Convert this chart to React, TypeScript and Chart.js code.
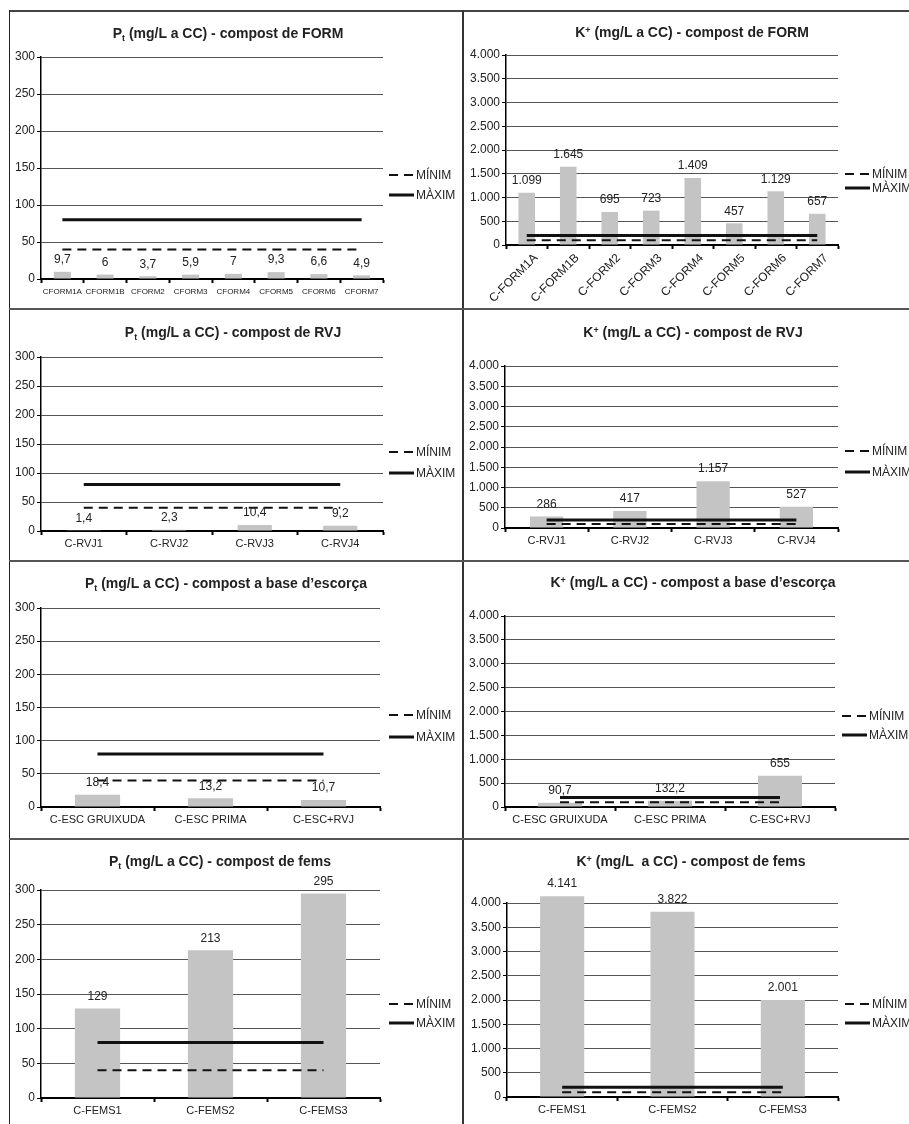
import React, { useEffect, useRef } from 'react';
import { Chart, registerables } from 'chart.js';

Chart.register(...registerables);

const FONT = "'Liberation Sans', Arial, Helvetica, sans-serif";
Chart.defaults.font.family = FONT;

// ---------------- DATA ----------------
const formPCategories = ['CFORM1A', 'CFORM1B', 'CFORM2', 'CFORM3', 'CFORM4', 'CFORM5', 'CFORM6', 'CFORM7'];
const formPValues = [9.7, 6, 3.7, 5.9, 7, 9.3, 6.6, 4.9];
const formPMin = [40, 40, 40, 40, 40, 40, 40, 40];
const formPMax = [80, 80, 80, 80, 80, 80, 80, 80];

const formKCategories = ['C-FORM1A', 'C-FORM1B', 'C-FORM2', 'C-FORM3', 'C-FORM4', 'C-FORM5', 'C-FORM6', 'C-FORM7'];
const formKValues = [1099, 1645, 695, 723, 1409, 457, 1129, 657];
const formKMin = [100, 100, 100, 100, 100, 100, 100, 100];
const formKMax = [200, 200, 200, 200, 200, 200, 200, 200];

const rvjCategories = ['C-RVJ1', 'C-RVJ2', 'C-RVJ3', 'C-RVJ4'];
const rvjPValues = [1.4, 2.3, 10.4, 9.2];
const rvjPMin = [40, 40, 40, 40];
const rvjPMax = [80, 80, 80, 80];
const rvjKValues = [286, 417, 1157, 527];
const rvjKMin = [100, 100, 100, 100];
const rvjKMax = [200, 200, 200, 200];

const escCategories = ['C-ESC GRUIXUDA', 'C-ESC PRIMA', 'C-ESC+RVJ'];
const escPValues = [18.4, 13.2, 10.7];
const escPMin = [40, 40, 40];
const escPMax = [80, 80, 80];
const escKValues = [90.7, 132.2, 655];
const escKMin = [100, 100, 100];
const escKMax = [200, 200, 200];

const femsCategories = ['C-FEMS1', 'C-FEMS2', 'C-FEMS3'];
const femsPValues = [129, 213, 295];
const femsPMin = [40, 40, 40];
const femsPMax = [80, 80, 80];
const femsKValues = [4141, 3822, 2001];
const femsKMin = [100, 100, 100];
const femsKMax = [200, 200, 200];

const pAxisMax = 300;
const pAxisStep = 50;
const kAxisMax = 4000;
const kAxisStep = 500;

const legendLabels = ['MÍNIM', 'MÀXIM'];

// ---------------- helpers ----------------
function fmt(v: number): string {
  const s = String(v);
  const [i, d] = s.split('.');
  const grouped = i.replace(/\B(?=(\d{3})+(?!\d))/g, '.');
  return d ? grouped + ',' + d : grouped;
}

const valueLabelPlugin = {
  id: 'valueLabels',
  afterDatasetsDraw(chart: any) {
    const ctx = chart.ctx;
    chart.data.datasets.forEach((ds: any, di: number) => {
      if (ds.type !== 'bar') return;
      const meta = chart.getDatasetMeta(di);
      ctx.save();
      ctx.font = `12px ${FONT}`;
      ctx.fillStyle = '#222';
      ctx.textAlign = 'center';
      ctx.textBaseline = 'middle';
      meta.data.forEach((el: any, i: number) => {
        ctx.fillText(fmt(ds.data[i]), el.x, el.y - 12);
      });
      ctx.restore();
    });
  },
};

const refLegendPlugin = {
  id: 'refLegend',
  afterDraw(chart: any, _args: any, opts: any) {
    if (!opts || !opts.ys) return;
    const ctx = chart.ctx;
    const lines = chart.data.datasets.filter((d: any) => d.type === 'line');
    lines.forEach((ds: any, i: number) => {
      const y = opts.ys[i];
      ctx.save();
      ctx.strokeStyle = ds.borderColor;
      ctx.lineWidth = ds.borderWidth;
      ctx.setLineDash(ds.borderDash || []);
      ctx.beginPath();
      ctx.moveTo(opts.x, y);
      ctx.lineTo(opts.x + 25, y);
      ctx.stroke();
      ctx.setLineDash([]);
      ctx.font = `12px ${FONT}`;
      ctx.fillStyle = '#222';
      ctx.textAlign = 'left';
      ctx.textBaseline = 'middle';
      ctx.fillText(ds.label, opts.x + 27, y + 0.5);
      ctx.restore();
    });
  },
};

type Rect = { x: number; y: number; w: number; h: number };
type Area = { L: number; R: number; T: number; B: number };

interface PanelProps {
  cell: Rect;
  area: Area;
  title: React.ReactNode;
  titleCenter: [number, number];
  categories: string[];
  values: number[];
  minVals: number[];
  maxVals: number[];
  yMax: number;
  yStep: number;
  xFont: number;
  xPad: number;
  rotation: number;
  labelOffset: number;
  legendX: number;
  legendYs: [number, number];
}

function Panel(p: PanelProps) {
  const ref = useRef<HTMLCanvasElement>(null);
  useEffect(() => {
    const { cell, area } = p;
    const yW = area.L - cell.x;
    const padR = cell.x + cell.w - area.R;
    const padTop = area.T - cell.y;
    const xH = cell.y + cell.h - area.B;
    const chart = new Chart(ref.current as HTMLCanvasElement, {
      type: 'bar',
      data: {
        labels: p.categories,
        datasets: [
          {
            type: 'line',
            label: legendLabels[0],
            data: p.minVals,
            borderColor: '#111',
            borderWidth: 2,
            borderDash: [9, 6],
            pointRadius: 0,
            fill: false,
            order: 0,
          } as any,
          {
            type: 'line',
            label: legendLabels[1],
            data: p.maxVals,
            borderColor: '#111',
            borderWidth: 3,
            pointRadius: 0,
            fill: false,
            order: 1,
          } as any,
          {
            type: 'bar',
            label: 'valor',
            data: p.values,
            backgroundColor: '#c4c4c4',
            barPercentage: 0.4,
            categoryPercentage: 1,
            clip: false,
            order: 2,
          } as any,
        ],
      },
      options: {
        responsive: false,
        animation: false,
        events: [],
        layout: { padding: { top: padTop, right: padR, left: 0, bottom: 0 } },
        plugins: {
          legend: { display: false },
          title: { display: false },
          tooltip: { enabled: false },
          refLegend: { x: p.legendX - cell.x, ys: [p.legendYs[0] - cell.y, p.legendYs[1] - cell.y] },
        } as any,
        scales: {
          x: {
            offset: true,
            grid: {
              display: true,
              drawOnChartArea: false,
              drawTicks: true,
              tickLength: 4,
              tickColor: '#000',
              tickWidth: 2,
              color: '#000',
              offset: true,
            },
            border: { display: true, color: '#000', width: 2 },
            ticks: {
              font: { size: p.xFont, family: FONT },
              color: '#222',
              autoSkip: false,
              maxRotation: p.rotation,
              minRotation: p.rotation,
              padding: p.xPad,
              labelOffset: p.labelOffset,
            },
            afterFit: (s: any) => {
              s.height = xH;
            },
          },
          y: {
            min: 0,
            max: p.yMax,
            grid: { color: '#555', lineWidth: 1, tickLength: 4, tickColor: '#000', tickWidth: 1 },
            border: { display: true, color: '#000', width: 1.5 },
            ticks: {
              stepSize: p.yStep,
              callback: (v: any) => fmt(Number(v)),
              font: { size: 12, family: FONT },
              color: '#222',
              padding: 2,
            },
            afterFit: (s: any) => {
              s.width = yW;
            },
          },
        },
      } as any,
      plugins: [valueLabelPlugin, refLegendPlugin],
    });
    return () => chart.destroy();
  }, []);

  return (
    <>
      <canvas
        ref={ref}
        width={p.cell.w}
        height={p.cell.h}
        style={{ position: 'absolute', left: p.cell.x, top: p.cell.y, width: p.cell.w, height: p.cell.h, display: 'block' }}
      />
      <div
        style={{
          position: 'absolute',
          left: p.titleCenter[0] - 250,
          top: p.titleCenter[1] - 10,
          width: 500,
          textAlign: 'center',
          font: `bold 14px ${FONT}`,
          lineHeight: '18px',
          color: '#222',
          whiteSpace: 'pre',
        }}
      >
        {p.title}
      </div>
    </>
  );
}

const subT = <sub style={{ fontSize: '9px', verticalAlign: '-3px', lineHeight: 0 }}>t</sub>;
const supPlus = <sup style={{ fontSize: '9px', verticalAlign: '4px', lineHeight: 0 }}>+</sup>;

export default function App() {
  const panels: PanelProps[] = [
    {
      cell: { x: 10, y: 12, w: 452, h: 296 },
      area: { L: 41, R: 383, T: 57, B: 279 },
      title: <>P{subT} (mg/L a CC) - compost de FORM</>,
      titleCenter: [228, 34],
      categories: formPCategories, values: formPValues, minVals: formPMin, maxVals: formPMax,
      yMax: pAxisMax, yStep: pAxisStep, xFont: 8, xPad: 4, rotation: 0, labelOffset: 0,
      legendX: 389, legendYs: [175, 195],
    },
    {
      cell: { x: 464, y: 12, w: 445, h: 296 },
      area: { L: 506, R: 838, T: 55, B: 245 },
      title: <>K{supPlus} (mg/L a CC) - compost de FORM</>,
      titleCenter: [692, 33],
      categories: formKCategories, values: formKValues, minVals: formKMin, maxVals: formKMax,
      yMax: kAxisMax, yStep: kAxisStep, xFont: 12, xPad: 2, rotation: 45, labelOffset: 9,
      legendX: 845, legendYs: [174, 188],
    },
    {
      cell: { x: 10, y: 310, w: 452, h: 250 },
      area: { L: 41, R: 383, T: 357, B: 531 },
      title: <>P{subT} (mg/L a CC) - compost de RVJ</>,
      titleCenter: [233, 333],
      categories: rvjCategories, values: rvjPValues, minVals: rvjPMin, maxVals: rvjPMax,
      yMax: pAxisMax, yStep: pAxisStep, xFont: 11, xPad: 2, rotation: 0, labelOffset: 0,
      legendX: 389, legendYs: [452, 473],
    },
    {
      cell: { x: 464, y: 310, w: 445, h: 250 },
      area: { L: 505, R: 838, T: 366, B: 528 },
      title: <>K{supPlus} (mg/L a CC) - compost de RVJ</>,
      titleCenter: [693, 333],
      categories: rvjCategories, values: rvjKValues, minVals: rvjKMin, maxVals: rvjKMax,
      yMax: kAxisMax, yStep: kAxisStep, xFont: 11, xPad: 2, rotation: 0, labelOffset: 0,
      legendX: 845, legendYs: [451, 472],
    },
    {
      cell: { x: 10, y: 562, w: 452, h: 276 },
      area: { L: 41, R: 380, T: 608, B: 807 },
      title: <>P{subT} (mg/L a CC) - compost a base d’escorça</>,
      titleCenter: [226, 584],
      categories: escCategories, values: escPValues, minVals: escPMin, maxVals: escPMax,
      yMax: pAxisMax, yStep: pAxisStep, xFont: 11, xPad: 2, rotation: 0, labelOffset: 0,
      legendX: 389, legendYs: [715, 737],
    },
    {
      cell: { x: 464, y: 562, w: 445, h: 276 },
      area: { L: 505, R: 835, T: 616, B: 807 },
      title: <>K{supPlus} (mg/L a CC) - compost a base d’escorça</>,
      titleCenter: [693, 583],
      categories: escCategories, values: escKValues, minVals: escKMin, maxVals: escKMax,
      yMax: kAxisMax, yStep: kAxisStep, xFont: 11, xPad: 2, rotation: 0, labelOffset: 0,
      legendX: 842, legendYs: [716, 735],
    },
    {
      cell: { x: 10, y: 840, w: 452, h: 284 },
      area: { L: 41, R: 380, T: 890, B: 1098 },
      title: <>P{subT} (mg/L a CC) - compost de fems</>,
      titleCenter: [220, 862],
      categories: femsCategories, values: femsPValues, minVals: femsPMin, maxVals: femsPMax,
      yMax: pAxisMax, yStep: pAxisStep, xFont: 11, xPad: 2, rotation: 0, labelOffset: 0,
      legendX: 389, legendYs: [1004, 1023],
    },
    {
      cell: { x: 464, y: 840, w: 445, h: 284 },
      area: { L: 507, R: 838, T: 903, B: 1097 },
      title: <>K{supPlus} (mg/L  a CC) - compost de fems</>,
      titleCenter: [691, 862],
      categories: femsCategories, values: femsKValues, minVals: femsKMin, maxVals: femsKMax,
      yMax: kAxisMax, yStep: kAxisStep, xFont: 11, xPad: 2, rotation: 0, labelOffset: 0,
      legendX: 845, legendYs: [1004, 1023],
    },
  ];

  const line = (s: React.CSSProperties) => <div style={{ position: 'absolute', ...s }} />;

  return (
    <div style={{ position: 'absolute', left: 0, top: 0, width: 909, height: 1124, background: '#fff', overflow: 'hidden' }}>
      {panels.map((p, i) => (
        <Panel key={i} {...p} />
      ))}
      {line({ left: 9, top: 10, width: 900, height: 2, background: '#444' })}
      {line({ left: 9, top: 10, width: 1, height: 1114, background: '#222' })}
      {line({ left: 462, top: 10, width: 2, height: 1114, background: '#333' })}
      {line({ left: 9, top: 308, width: 900, height: 2, background: '#555' })}
      {line({ left: 9, top: 560, width: 900, height: 2, background: '#555' })}
      {line({ left: 9, top: 838, width: 900, height: 2, background: '#555' })}
    </div>
  );
}
